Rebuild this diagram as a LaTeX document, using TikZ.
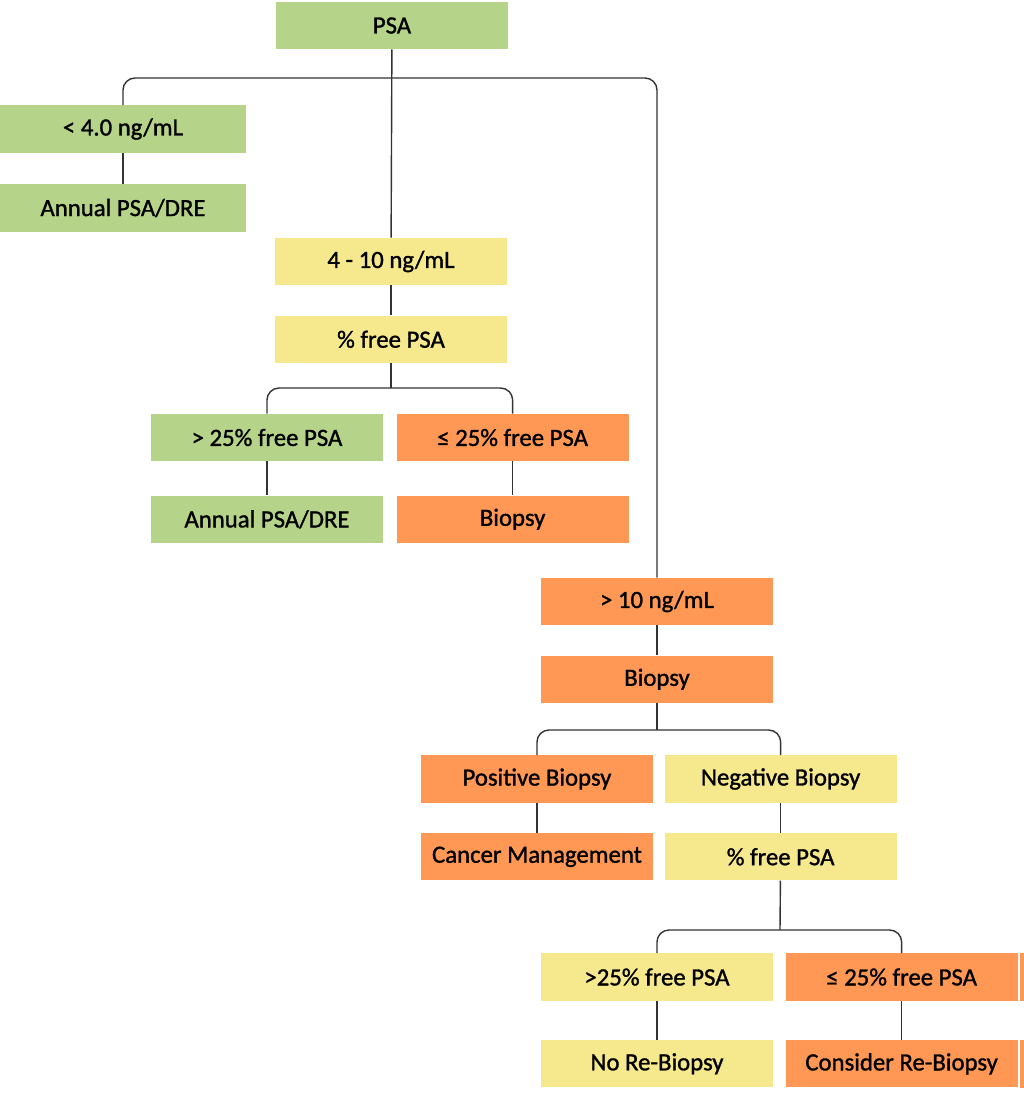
\documentclass[tikz,border=0pt]{standalone}
\usepackage{fontspec}
\setmainfont{Carlito}
\newfontfamily\boxfont{Carlito}[FakeBold=1.2]
\usetikzlibrary{positioning}
\definecolor{psagreen}{RGB}{181,211,137}
\definecolor{psayellow}{RGB}{246,232,140}
\definecolor{psaorange}{RGB}{255,152,84}

\begin{document}
\begin{tikzpicture}[x=0.025cm,y=-0.025cm,
  box/.style={inner sep=0pt,minimum width=5.8cm,minimum height=1.18cm,
              font=\boxfont\fontsize{17.6}{20}\selectfont},
  gbox/.style={box,fill=psagreen},
  ybox/.style={box,fill=psayellow},
  obox/.style={box,fill=psaorange},
  link/.style={draw=black!80,line width=1pt,rounded corners=0.3cm},
  node distance=0.75cm]
\useasboundingbox (0,0) rectangle (1024,1094);
\node[gbox] (psa) at (392,25.5) {PSA};
\node[gbox,minimum width=6.15cm] (low) at (123,129) {< 4.0 ng/mL};
\node[gbox,minimum width=6.15cm,below=0.78cm of low] (lowann) {Annual PSA/DRE};
\node[ybox] (mid) at (391,261.5) {4 - 10 ng/mL};
\node[ybox,below=of mid] (midfree) {\% free PSA};
\node[gbox] (midhi) at (267,437.5) {> 25\% free PSA};
\node[obox,right=0.325cm of midhi] (midlo) {≤ 25\% free PSA};
\node[gbox,below=0.85cm of midhi] (midann) {Annual PSA/DRE};
\node[obox,below=0.85cm of midlo] (midbx) {Biopsy};
\node[obox] (high) at (657,601.5) {> 10 ng/mL};
\node[obox,below=of high] (highbx) {Biopsy};
\node[obox] (pos) at (537,779) {Positive Biopsy};
\node[ybox,right=0.275cm of pos] (neg) {Negative Biopsy};
\node[obox,below=of pos] (cancer) {Cancer Management};
\node[ybox,below=of neg] (negfree) {\% free PSA};
\node[ybox] (neghi) at (657,977) {>25\% free PSA};
\node[obox,right=0.3cm of neghi] (neglo) {≤ 25\% free PSA};
\node[ybox,below=0.975cm of neghi] (norebx) {No Re-Biopsy};
\node[obox,below=0.975cm of neglo] (rebx) {Consider Re-Biopsy};
% boxes cut off at the right edge
\begin{scope}
  \clip (0,0) rectangle (1024,1094);
  \fill[psaorange] (1020,953) rectangle (1040,1001);
  \fill[psaorange] (1020,1040) rectangle (1040,1088);
\end{scope}
% branching lines
\coordinate (psabar) at (392,78);
\coordinate (midbar) at (391,388);
\coordinate (highbar) at (657,730);
\coordinate (negbar) at (780,930);
\draw[link] (psa) -- (mid);
\draw[link] (low.north) |- (psabar) -| (high.north);
\draw[link] (midfree) -- (midbar);
\draw[link] (midhi.north) |- (midbar) -| (midlo.north);
\draw[link] (highbx) -- (highbar);
\draw[link] (pos.north) |- (highbar) -| (neg.north);
\draw[link] (negfree) -- (negbar);
\draw[link] (neghi.north) |- (negbar) -| (neglo.north);
\foreach \a/\b in {low/lowann,mid/midfree,midhi/midann,midlo/midbx,high/highbx,
                   pos/cancer,neg/negfree,neghi/norebx,neglo/rebx}
  \draw[link] (\a) -- (\b);
\end{tikzpicture}
\end{document}
